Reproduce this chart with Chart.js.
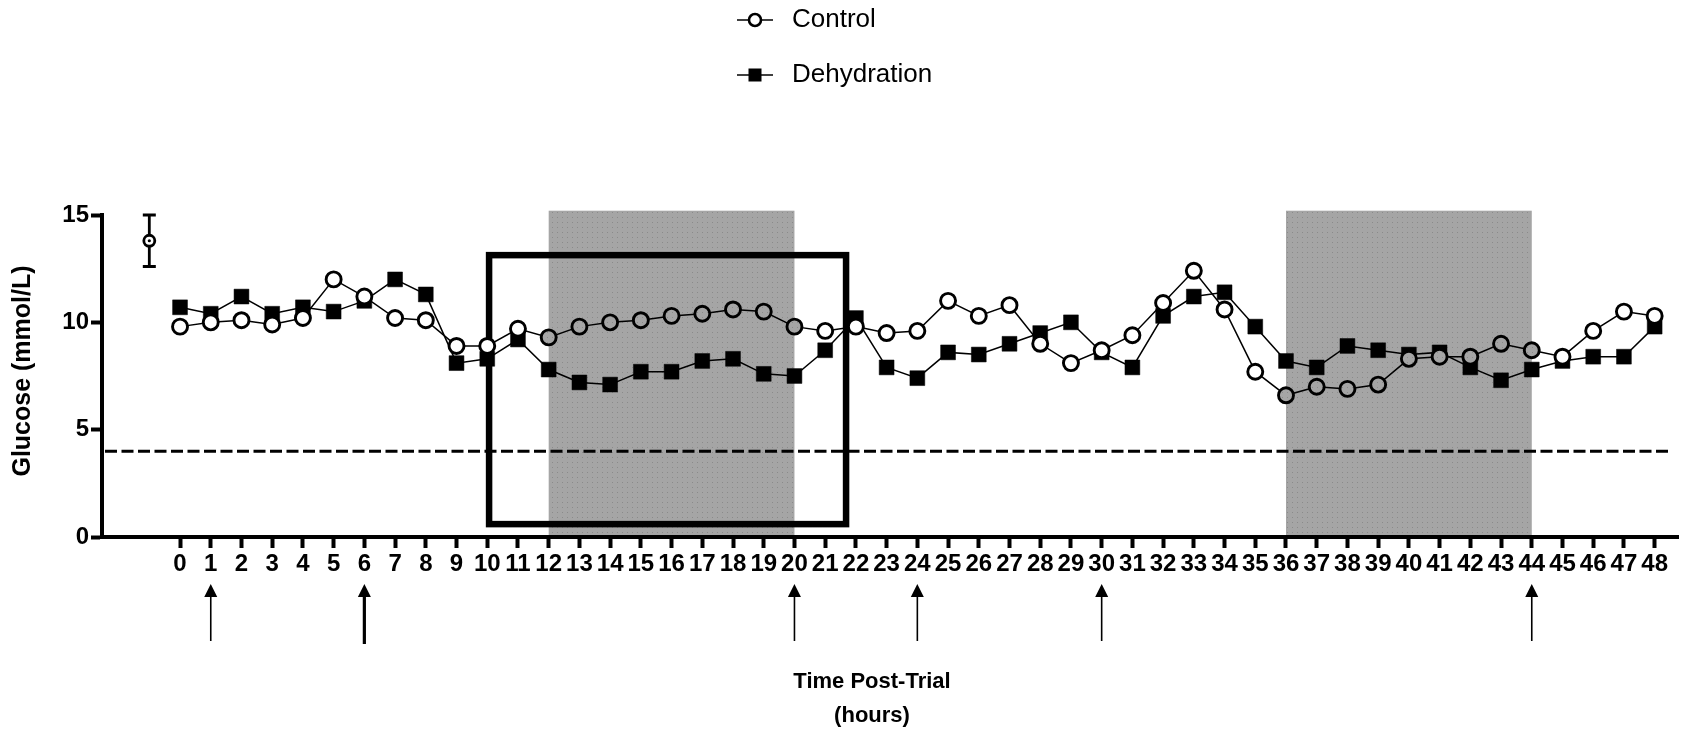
<!DOCTYPE html>
<html>
<head>
<meta charset="utf-8">
<style>
html,body{margin:0;padding:0;background:#fff;}
#wrap{width:1681px;height:733px;position:relative;}
</style>
<script src="https://cdn.jsdelivr.net/npm/chart.js@4.4.1/dist/chart.umd.min.js"></script>
</head>
<body>
<div id="wrap"><canvas id="c" width="1681" height="733"></canvas></div>
<script>
// ---------- data ----------
const hours = [0,1,2,3,4,5,6,7,8,9,10,11,12,13,14,15,16,17,18,19,20,21,22,23,24,25,26,27,28,29,30,31,32,33,34,35,36,37,38,39,40,41,42,43,44,45,46,47,48];
const controlGlucose = [9.8,10.0,10.1,9.9,10.2,12.0,11.2,10.2,10.1,8.9,8.9,9.7,9.3,9.8,10.0,10.1,10.3,10.4,10.6,10.5,9.8,9.6,9.8,9.5,9.6,11.0,10.3,10.8,9.0,8.1,8.7,9.4,10.9,12.4,10.6,7.7,6.6,7.0,6.9,7.1,8.3,8.4,8.4,9.0,8.7,8.4,9.6,10.5,10.3];
const dehydrationGlucose = [10.7,10.4,11.2,10.4,10.7,10.5,11.0,12.0,11.3,8.1,8.3,9.2,7.8,7.2,7.1,7.7,7.7,8.2,8.3,7.6,7.5,8.7,10.2,7.9,7.4,8.6,8.5,9.0,9.5,10.0,8.6,7.9,10.3,11.2,11.4,9.8,8.2,7.9,8.9,8.7,8.5,8.6,7.9,7.3,7.8,8.2,8.4,8.4,9.8];
const xTickLabels = hours.map(String);
const baselineHour = [-1];
const baselineMean = [13.8];
const baselineLow = [12.6];
const baselineHigh = [15.0];
const yTickValues = [0,5,10,15];
const hypoThreshold = [4];
const darkPeriods = [[12,20],[36,44]];
const darkTop = [15.2];
const focusBox = [10.06, 21.68, 0.6, 13.13]; // hour start, hour end, glucose low, glucose high
const arrowHours = [1,6,20,24,30,44];
const seriesNames = ['Control','Dehydration'];
const xTitleLines = ['Time Post-Trial','(hours)'];
const yTitle = 'Glucose (mmol/L)';

// ---------- styling helpers ----------
const FONT = '"Liberation Sans", Arial, Helvetica, sans-serif';
const canvas = document.getElementById('c');
const ctx0 = canvas.getContext('2d');
function makePattern(){
  const p = document.createElement('canvas');
  p.width = 5; p.height = 5;
  const g = p.getContext('2d');
  g.fillStyle = '#a5a5a5'; g.fillRect(0,0,5,5);
  g.fillStyle = '#8a8a8a'; g.fillRect(2,2,1,1);
  return ctx0.createPattern(p,'repeat');
}
const shadePattern = makePattern();
const inDark = h => darkPeriods.some(([a,b]) => h >= a && h <= b);

const controlPoints = hours.map((h,i)=>({x:h,y:controlGlucose[i]}));
const dehydrationPoints = hours.map((h,i)=>({x:h,y:dehydrationGlucose[i]}));
const baselinePoints = baselineHour.map((h,i)=>({x:h,y:baselineMean[i]}));

const decorPlugin = {
  id:'decor',
  beforeDraw(chart){
    const {ctx, scales:{x,y}} = chart;
    ctx.save();
    ctx.fillStyle = shadePattern;
    darkPeriods.forEach(([a,b])=>{
      const x1 = x.getPixelForValue(a), x2 = x.getPixelForValue(b);
      const yt = y.getPixelForValue(darkTop[0]), yb = y.getPixelForValue(0) - 2;
      ctx.fillRect(x1, yt, x2-x1, yb-yt);
    });
    ctx.restore();
  },
  beforeDatasetsDraw(chart){
    const {ctx, scales:{x,y}} = chart;
    ctx.save();
    // hypoglycaemia threshold
    ctx.strokeStyle = '#000'; ctx.lineWidth = 3; ctx.setLineDash([12,4.5]);
    const yy = y.getPixelForValue(hypoThreshold[0]);
    ctx.beginPath(); ctx.moveTo(x.getPixelForValue(x.min)+3, yy); ctx.lineTo(x.getPixelForValue(48.55), yy); ctx.stroke();
    ctx.setLineDash([]);
    // focus box
    ctx.lineWidth = 6.5;
    const bx1 = x.getPixelForValue(focusBox[0]), bx2 = x.getPixelForValue(focusBox[1]);
    const by1 = y.getPixelForValue(focusBox[3]), by2 = y.getPixelForValue(focusBox[2]);
    ctx.strokeRect(bx1, by1, bx2-bx1, by2-by1);
    // baseline error bar
    ctx.lineWidth = 2.8;
    baselineHour.forEach((h,i)=>{
      const px = x.getPixelForValue(h);
      const yl = y.getPixelForValue(baselineLow[i]), yh = y.getPixelForValue(baselineHigh[i]);
      ctx.beginPath();
      ctx.moveTo(px, yl); ctx.lineTo(px, yh);
      ctx.moveTo(px-6.5, yh); ctx.lineTo(px+6.5, yh);
      ctx.moveTo(px-6.5, yl); ctx.lineTo(px+6.5, yl);
      ctx.stroke();
    });
    ctx.restore();
  },
  afterDatasetsDraw(chart){
    const {ctx, scales:{x,y}} = chart;
    ctx.save();
    ctx.fillStyle = '#000';
    baselineHour.forEach((h,i)=>{
      ctx.beginPath();
      ctx.arc(x.getPixelForValue(h), y.getPixelForValue(baselineMean[i]), 1.6, 0, Math.PI*2);
      ctx.fill();
    });
    ctx.restore();
  },
  afterDraw(chart){
    const {ctx, scales:{x}} = chart;
    ctx.save();
    // arrows
    arrowHours.forEach(h=>{
      const px = x.getPixelForValue(h);
      const thick = (h === 6);
      const tip = 584, tail = thick ? 644 : 641;
      ctx.strokeStyle = '#000'; ctx.fillStyle = '#000';
      ctx.lineWidth = thick ? 3.2 : 1.6;
      ctx.beginPath(); ctx.moveTo(px, tip+10); ctx.lineTo(px, tail); ctx.stroke();
      ctx.beginPath(); ctx.moveTo(px, tip); ctx.lineTo(px-6.5, tip+13); ctx.lineTo(px+6.5, tip+13); ctx.closePath(); ctx.fill();
    });
    // x title
    ctx.fillStyle = '#000';
    ctx.font = 'bold 22px ' + FONT;
    ctx.textAlign = 'center'; ctx.textBaseline = 'middle';
    ctx.fillText(xTitleLines[0], 872, 682);
    ctx.fillText(xTitleLines[1], 872, 716);
    // y title
    ctx.save();
    ctx.translate(23.6, 371);
    ctx.rotate(-Math.PI/2);
    ctx.font = 'bold 25px ' + FONT;
    ctx.fillText(yTitle, 0, 0);
    ctx.restore();
    // legend
    ctx.lineWidth = 1.5; ctx.strokeStyle = '#000';
    const lx1 = 737, lx2 = 773, lc = 755;
    const ly = [20, 75];
    ctx.beginPath(); ctx.moveTo(lx1, ly[0]); ctx.lineTo(lx2, ly[0]); ctx.stroke();
    ctx.beginPath(); ctx.arc(lc, ly[0], 6, 0, Math.PI*2); ctx.fillStyle='#fff'; ctx.fill(); ctx.lineWidth=2.6; ctx.stroke();
    ctx.lineWidth = 1.5;
    ctx.beginPath(); ctx.moveTo(lx1, ly[1]); ctx.lineTo(lx2, ly[1]); ctx.stroke();
    ctx.fillStyle = '#000'; ctx.fillRect(lc-6.5, ly[1]-6.5, 13, 13);
    ctx.font = '26px ' + FONT; ctx.textAlign = 'left';
    ctx.fillText(seriesNames[0], 792, ly[0]);
    ctx.fillText(seriesNames[1], 792, ly[1]);
    ctx.restore();
  }
};

new Chart(canvas, {
  type:'line',
  data:{
    datasets:[
      {label:seriesNames[0], data:controlPoints, borderColor:'#000', borderWidth:1.5, tension:0,
       pointStyle:'circle', pointRadius:7.5, pointHoverRadius:7.5, pointBorderWidth:2.9, pointBorderColor:'#000',
       pointBackgroundColor: hours.map(h => inDark(h) ? shadePattern : '#fff')},
      {label:seriesNames[1], data:dehydrationPoints, borderColor:'#000', borderWidth:1.5, tension:0,
       pointStyle:'rect', pointRadius:10.5, pointHoverRadius:10.5, pointBorderWidth:0.5, pointBorderColor:'#000',
       pointBackgroundColor:'#000'},
      {label:'Baseline', data:baselinePoints, showLine:false, borderColor:'#000',
       pointStyle:'circle', pointRadius:5.5, pointBorderWidth:2.8, pointBorderColor:'#000', pointBackgroundColor:'#fff'}
    ]
  },
  options:{
    responsive:false, animation:false, devicePixelRatio:1,
    layout:{autoPadding:false, padding:{top:215,right:3,bottom:0,left:0}},
    plugins:{legend:{display:false}, tooltip:{enabled:false}},
    events:[],
    scales:{
      x:{type:'linear', min:-2.54, max:48.76,
        afterBuildTicks(s){ s.ticks = hours.map(v=>({value:v})); },
        afterFit(s){ s.height = 196; s.paddingLeft = 0; s.paddingRight = 0; },
        ticks:{autoSkip:false, maxRotation:0, minRotation:0, color:'#000', padding:2,
          font:{family:FONT, size:24, weight:'bold'},
          callback:(v)=> xTickLabels[hours.indexOf(v)] ?? ''},
        grid:{display:true, drawOnChartArea:false, drawTicks:true, tickLength:11, tickWidth:4, tickColor:'#000', color:'#000'},
        border:{display:true, color:'#000', width:4}
      },
      y:{type:'linear', min:0, max:15,
        afterBuildTicks(s){ s.ticks = yTickValues.map(v=>({value:v})); },
        afterFit(s){ s.width = 102; s.paddingTop = 0; s.paddingBottom = 0; },
        ticks:{color:'#000', padding:2, font:{family:FONT, size:24, weight:'bold'}},
        grid:{display:true, drawOnChartArea:false, drawTicks:true, tickLength:11, tickWidth:4, tickColor:'#000', color:'#000'},
        border:{display:true, color:'#000', width:4},
        title:{display:false}
      }
    }
  },
  plugins:[decorPlugin]
});
</script>
</body>
</html>
